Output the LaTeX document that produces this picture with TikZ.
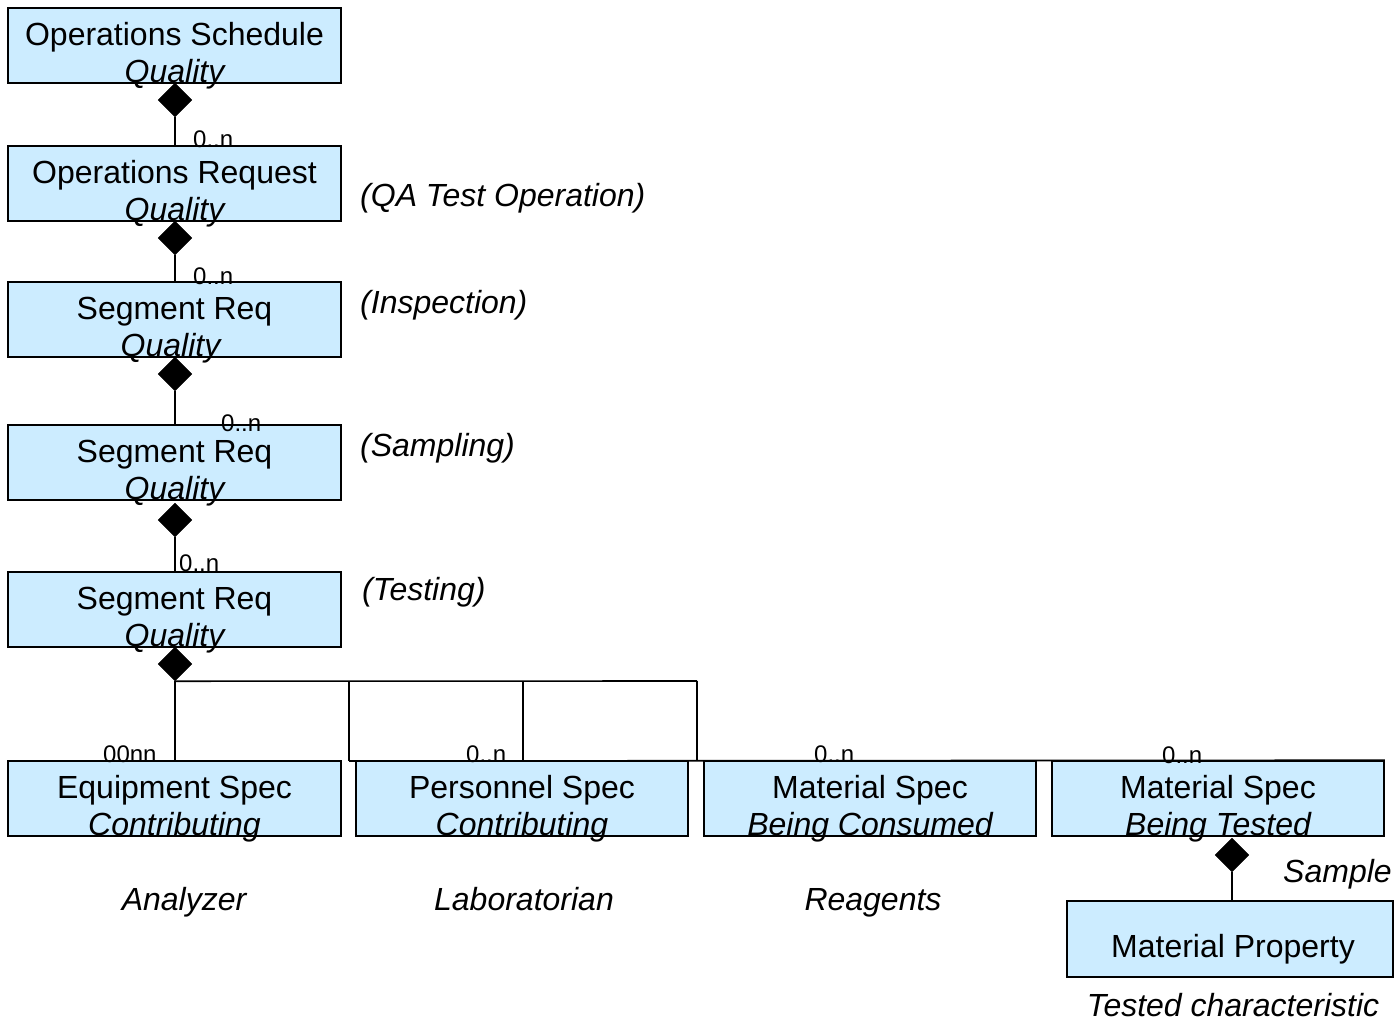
\documentclass[tikz,border=0pt]{standalone}
\usepackage{fontspec}
\setmainfont{Liberation Sans}
\usetikzlibrary{shapes.geometric}
\definecolor{boxblue}{HTML}{CCECFF}
\begin{document}
\begin{tikzpicture}[x=1pt,y=-1pt,
  box/.style={draw=black, fill=boxblue, line width=1.6pt, minimum width=333pt, minimum height=75pt, inner sep=0pt},
  comp/.style={diamond, fill=black, draw=black, minimum width=34pt, minimum height=34pt, inner sep=0pt},
  conn/.style={draw=black, line width=1.6pt},
  big/.style={font=\fontsize{32}{37}\selectfont, inner sep=0pt, anchor=base},
  bigit/.style={font=\fontsize{32}{37}\selectfont\itshape, inner sep=0pt, anchor=base},
  mult/.style={font=\fontsize{24}{26}\selectfont, inner sep=0pt, anchor=base west}]
\useasboundingbox (0,0) rectangle (1394,1021);
% boxes
\node[box] (b1) at (174.5,45.5) {};
\node[box] (b2) at (174.5,183.5) {};
\node[box] (b3) at (174.5,319.5) {};
\node[box] (b4) at (174.5,462.5) {};
\node[box] (b5) at (174.5,609.5) {};
\node[box] (eq) at (174.5,798.5) {};
\node[box, minimum width=332pt] (ps) at (522,798.5) {};
\node[box, minimum width=332pt] (mc) at (870,798.5) {};
\node[box, minimum width=332pt] (mt) at (1218,798.5) {};
\node[box, minimum width=326pt, minimum height=76pt] (mp) at (1230,939) {};
% connectors
\node[comp] (d1) at (175,100) {};
\node[comp] (d2) at (175,238) {};
\node[comp] (d3) at (175,374) {};
\node[comp] (d4) at (175,520) {};
\node[comp] (d5) at (175,664) {};
\node[comp] (d6) at (1232,855) {};
\draw[conn] (d1.south) -- (d1.south |- b2.north);
\draw[conn] (d2.south) -- (d2.south |- b3.north);
\draw[conn] (d3.south) -- (d3.south |- b4.north);
\draw[conn] (d4.south) -- (d4.south |- b5.north);
\draw[conn] (d6.south) -- (d6.south |- mp.north);
\coordinate (j1) at (349,681);
\coordinate (j2) at (523,681);
\coordinate (j3) at (697,681);
\coordinate (k1) at (349,761);
\draw[conn] (d5.south) -- (d5.south |- eq.north);
\draw[conn] (d5.south) -- (j3);
\draw[conn] (j1) -- (k1);
\draw[conn] (j2) -- (j2 |- ps.north);
\draw[conn] (j3) -- (j3 |- mc.north);
\draw[conn] (k1) -- (mt.north east);
% box texts
\node[big] (t1a) at (174.5,45) {Operations Schedule};
\node[bigit] (t1b) at (174.5,82) {Quality};
\node[big] (t2a) at (174.5,183) {Operations Request};
\node[bigit] (t2b) at (174.5,220) {Quality};
\node[big] (t3a) at (174.5,319) {Segment Req};
\node[bigit] (t3b) at (170.5,356) {Quality};
\node[big] (t4a) at (174.5,462) {Segment Req};
\node[bigit] (t4b) at (174.5,499) {Quality};
\node[big] (t5a) at (174.5,609) {Segment Req};
\node[bigit] (t5b) at (174.5,646) {Quality};
\node[big] (tea) at (174.5,798) {Equipment Spec};
\node[bigit] (teb) at (174.5,835) {Contributing};
\node[big] (tpa) at (522,798) {Personnel Spec};
\node[bigit] (tpb) at (522,835) {Contributing};
\node[big] (tca) at (870,798) {Material Spec};
\node[bigit] (tcb) at (870,835) {Being Consumed};
\node[big] (tta) at (1218,798) {Material Spec};
\node[bigit] (ttb) at (1218,835) {Being Tested};
\node[big] (tmp) at (1233,957) {Material Property};
% multiplicities
\node[mult] (m1) at (193,147) {0..n};
\node[mult] (m2) at (193,284) {0..n};
\node[mult] (m3) at (221,431) {0..n};
\node[mult] (m4) at (179,571) {0..n};
\node[mult] (m5) at (103,762) {00nn};
\node[mult] (m6) at (466,762) {0..n};
\node[mult] (m7) at (814,762) {0..n};
\node[mult] (m8) at (1162,763) {0..n};
% side labels
\node[bigit, anchor=base west] (l1) at (360,206) {(QA Test Operation)};
\node[bigit, anchor=base west] (l2) at (360,313) {(Inspection)};
\node[bigit, anchor=base west] (l3) at (360,456) {(Sampling)};
\node[bigit, anchor=base west] (l4) at (362,600) {(Testing)};
\node[bigit] (l5) at (184,910) {Analyzer};
\node[bigit] (l6) at (524,910) {Laboratorian};
\node[bigit] (l7) at (873,910) {Reagents};
\node[bigit, anchor=base west] (l8) at (1283,882) {Sample};
\node[bigit] (l9) at (1233,1016) {Tested characteristic};
\end{tikzpicture}
\end{document}
